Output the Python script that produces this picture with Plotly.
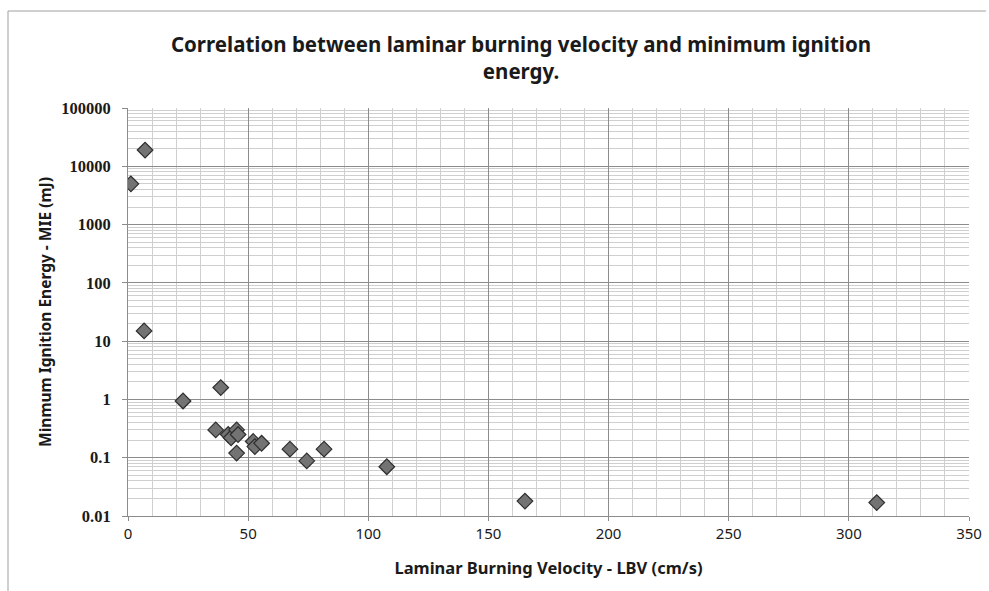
import plotly.graph_objects as go

# Data
lbv = [1.2, 7.1, 6.7, 22.9, 38.6, 36.5, 41.7, 42.9, 45.2, 45.8, 45.2, 52.1, 52.8, 55.6, 67.4, 74.4, 81.6, 107.7, 165.2, 311.6]
mie = [5000, 19000, 15, 0.94, 1.6, 0.30, 0.25, 0.22, 0.30, 0.25, 0.12, 0.19, 0.155, 0.177, 0.14, 0.088, 0.14, 0.07, 0.018, 0.017]

x_ticks = [0, 50, 100, 150, 200, 250, 300, 350]
y_ticks = [0.01, 0.1, 1, 10, 100, 1000, 10000, 100000]
y_tick_text = ["0.01", "0.1", "1", "10", "100", "1000", "10000", "100000"]

W, H = 989, 591
ML, MR, MT, MB = 128, 20, 108, 75
PW, PH = W - ML - MR, H - MT - MB

def px_x(p):
    return (p - ML) / PW

def px_y(p):
    return (H - MB - p) / PH

fig = go.Figure()
fig.add_trace(go.Scatter(
    x=lbv, y=mie, mode="markers",
    marker=dict(symbol="diamond", size=12, color="#737373",
                line=dict(color="#2e2e2e", width=1.2)),
    showlegend=False,
))

fig.update_layout(
    width=W, height=H,
    paper_bgcolor="white", plot_bgcolor="white",
    margin=dict(l=ML, r=MR, t=MT, b=MB, autoexpand=False),
    title=dict(
        text="<b>Correlation between laminar burning velocity and minimum ignition<br>energy.</b>",
        x=521 / W, xanchor="center", y=1 - 52 / H, yanchor="top",
        font=dict(family="Noto Sans", size=20.5, color="#1a1a1a"),
    ),
    font=dict(family="Noto Sans", color="#1a1a1a"),
    shapes=[
        dict(type="line", xref="paper", yref="paper", x0=px_x(8), x1=px_x(986), y0=px_y(11), y1=px_y(11),
             line=dict(color="#a0a0a0", width=1)),
        dict(type="line", xref="paper", yref="paper", x0=px_x(8), x1=px_x(8), y0=px_y(11), y1=px_y(600),
             line=dict(color="#a0a0a0", width=1)),
    ],
)

fig.update_xaxes(
    range=[0, 350], tickvals=x_ticks, automargin=False,
    showgrid=True, gridcolor="#8c8c8c", gridwidth=1.2,
    minor=dict(dtick=10, showgrid=True, gridcolor="#cfcfcf", gridwidth=1, ticks=""),
    ticks="outside", ticklen=4, tickcolor="#8c8c8c",
    showline=True, linecolor="#8c8c8c", mirror=False,
    zeroline=False,
    tickfont=dict(family="Liberation Sans Narrow, Noto Sans", size=15, color="#1a1a1a"),
    title=dict(text="<b>Laminar Burning Velocity - LBV (cm/s)</b>", standoff=20,
               font=dict(family="Noto Sans", size=16.5, color="#1a1a1a")),
)

fig.update_yaxes(
    type="log", range=[-2, 5], tickvals=y_ticks, ticktext=y_tick_text, automargin=False,
    showgrid=True, gridcolor="#8c8c8c", gridwidth=1.2,
    minor=dict(dtick="D1", showgrid=True, gridcolor="#cfcfcf", gridwidth=1, ticks=""),
    ticks="outside", ticklen=5, tickcolor="#8c8c8c", ticklabelstandoff=8,
    showline=True, linecolor="#8c8c8c",
    zeroline=False,
    tickfont=dict(family="Liberation Serif", size=16.5, color="#1a1a1a", weight="bold"),
    title=dict(text="<b>Minmum Ignition Energy - MIE (mJ)</b>", standoff=5,
               font=dict(family="Noto Sans", size=15.5, color="#1a1a1a")),
)

fig.write_html("out.html", config={"displayModeBar": False},
               post_script="document.body.style.margin='0';")
